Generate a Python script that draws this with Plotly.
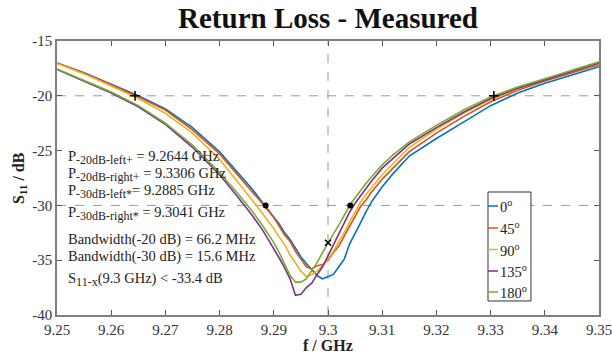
import plotly.graph_objects as go

# ---------------- data ----------------
freq_ghz = [9.250, 9.255, 9.260, 9.265, 9.270, 9.275, 9.280, 9.283, 9.286, 9.288,
            9.290, 9.291, 9.292, 9.293, 9.294, 9.295, 9.296, 9.297, 9.298, 9.299,
            9.300, 9.301, 9.302, 9.303, 9.304, 9.305, 9.306, 9.307, 9.308, 9.310,
            9.312, 9.315, 9.320, 9.325, 9.330, 9.335, 9.340, 9.345, 9.350]

s11_0 = [-17.0, -17.9, -18.95, -20.0, -21.2, -22.9, -25.1, -26.8, -28.5, -29.8,
         -31.0, -31.7, -32.5, -33.1, -33.9, -34.7, -35.3, -35.9, -36.4, -36.7,
         -36.5, -36.3, -35.6, -34.9, -33.5, -32.6, -31.6, -30.6, -29.7, -28.3,
         -27.1, -25.5, -23.9, -22.4, -20.9, -19.75, -18.85, -18.1, -17.35]

s11_45 = [-17.0, -17.95, -19.0, -20.1, -21.3, -23.1, -25.3, -27.0, -28.7, -29.9,
          -31.1, -31.9, -32.7, -33.3, -34.2, -34.9, -35.6, -35.8, -35.5, -35.4,
          -35.0, -34.3, -33.7, -32.8, -31.9, -31.0, -30.1, -29.5, -28.8, -27.6,
          -26.6, -25.1, -23.4, -21.9, -20.55, -19.5, -18.65, -17.9, -17.15]

s11_90 = [-17.05, -18.0, -19.1, -20.25, -21.6, -23.4, -25.8, -27.6, -29.5, -30.8,
          -32.1, -32.9, -33.6, -34.5, -35.3, -36.0, -36.5, -36.3, -36.0, -35.5,
          -34.9, -34.2, -33.3, -32.5, -31.5, -30.6, -29.7, -29.0, -28.4, -27.2,
          -26.2, -24.7, -23.05, -21.6, -20.35, -19.35, -18.5, -17.75, -17.05]

s11_135 = [-17.6, -18.65, -19.75, -21.0, -22.6, -24.7, -27.2, -29.0, -30.9, -32.3,
           -33.9, -34.8, -35.7, -36.7, -38.2, -38.1, -37.5, -37.1, -36.3, -35.6,
           -34.6, -33.6, -32.6, -31.6, -30.6, -29.8, -29.1, -28.5, -27.8, -26.6,
           -25.7, -24.4, -22.9, -21.5, -20.25, -19.3, -18.55, -17.75, -17.0]

s11_180 = [-17.55, -18.6, -19.65, -20.9, -22.5, -24.5, -27.0, -28.7, -30.5, -31.9,
           -33.4, -34.3, -35.3, -36.4, -37.0, -37.0, -36.7, -36.0, -35.2, -34.3,
           -33.4, -32.6, -31.8, -30.9, -30.0, -29.3, -28.6, -28.0, -27.4, -26.3,
           -25.4, -24.2, -22.7, -21.3, -20.1, -19.2, -18.45, -17.65, -16.9]

angle_labels = ["0", "45", "90", "135", "180"]
series_values = [s11_0, s11_45, s11_90, s11_135, s11_180]
series_colors = ["#0072BD", "#D95319", "#EDB120", "#7E2F8E", "#77AC30"]

marker_plus_f = [9.2644, 9.3306]
marker_plus_db = [-20, -20]
marker_dot_f = [9.2885, 9.3041]
marker_dot_db = [-30, -30]
marker_x_f = [9.3]
marker_x_db = [-33.4]

ref_h_levels = [-20, -30]
ref_v_freq = [9.3]

x_ticks = [9.25, 9.26, 9.27, 9.28, 9.29, 9.30, 9.31, 9.32, 9.33, 9.34, 9.35]
x_tick_labels = ["9.25", "9.26", "9.27", "9.28", "9.29", "9.3", "9.31", "9.32", "9.33", "9.34", "9.35"]
y_ticks = [-40, -35, -30, -25, -20, -15]
y_tick_labels = ["-40", "-35", "-30", "-25", "-20", "-15"]

SUB = '<sub><span style="font-size:12px">{}</span></sub>'
info_lines = [
    "P" + SUB.format("-20dB-left+") + " = 9.2644 GHz",
    "P" + SUB.format("-20dB-right+") + " = 9.3306 GHz",
    "P" + SUB.format("-30dB-left*") + "= 9.2885 GHz",
    "P" + SUB.format("-30dB-right*") + " = 9.3041 GHz",
    "Bandwidth(-20 dB) = 66.2 MHz",
    "Bandwidth(-30 dB) = 15.6 MHz",
    "S" + SUB.format("11-x") + "(9.3 GHz) < -33.4 dB",
]
info_y = [0.573, 0.511, 0.449, 0.372, 0.274, 0.212, 0.131]

# ---------------- figure ----------------
SERIF = "Liberation Serif"
fig = go.Figure()

for lvl in ref_h_levels:
    fig.add_hline(y=lvl, line=dict(color="#999999", width=1, dash="dash"), layer="below")
for fv in ref_v_freq:
    fig.add_vline(x=fv, line=dict(color="#999999", width=1, dash="dash"), layer="below")

for lab, vals, col in zip(angle_labels, series_values, series_colors):
    fig.add_trace(go.Scatter(x=freq_ghz, y=vals, mode="lines", name=f"{lab}<sup>o</sup>",
                             line=dict(color=col, width=1.6), showlegend=False))

fig.add_trace(go.Scatter(x=marker_plus_f, y=marker_plus_db, mode="markers", showlegend=False,
                         marker=dict(symbol="cross-thin", size=7, line=dict(color="black", width=1.5))))
fig.add_trace(go.Scatter(x=marker_dot_f, y=marker_dot_db, mode="markers", showlegend=False,
                         marker=dict(symbol="circle", size=6, color="black")))
fig.add_trace(go.Scatter(x=marker_x_f, y=marker_x_db, mode="markers", showlegend=False,
                         marker=dict(symbol="x-thin", size=6, line=dict(color="black", width=1.5))))

for txt, yy in zip(info_lines, info_y):
    fig.add_annotation(text=txt, xref="paper", yref="paper", x=0.017, y=yy,
                       xanchor="left", yanchor="middle", showarrow=False,
                       font=dict(family=SERIF, size=14.5, color="#222"))

# compact legend box (paper coordinates)
leg_x0, leg_x1, leg_y0, leg_y1 = 0.7952, 0.8745, 0.0511, 0.4489
leg_entry_y = [0.3978, 0.3175, 0.239, 0.1606, 0.0839]
fig.add_shape(type="rect", xref="paper", yref="paper", x0=leg_x0, x1=leg_x1, y0=leg_y0, y1=leg_y1,
              line=dict(color="#333", width=1), fillcolor="white", layer="above")
for lab, col, ly in zip(angle_labels, series_colors, leg_entry_y):
    fig.add_shape(type="line", xref="paper", yref="paper", x0=leg_x0, x1=0.8137, y0=ly, y1=ly,
                  line=dict(color=col, width=1.5), layer="above")
    fig.add_annotation(text=f"{lab}<sup>o</sup>", xref="paper", yref="paper", x=0.8137, y=ly,
                       xanchor="left", yanchor="middle", showarrow=False,
                       font=dict(family=SERIF, size=14.5, color="#222"))

fig.add_annotation(text="<b>f / GHz</b>", xref="paper", yref="paper", x=0.5, y=-0.113,
                   xanchor="center", yanchor="middle", showarrow=False,
                   font=dict(family=SERIF, size=16, color="#222"))
fig.add_annotation(text="<b>S<sub>11</sub> / dB</b>", xref="paper", yref="paper", x=-0.07, y=0.5,
                   xanchor="center", yanchor="middle", showarrow=False, textangle=-90,
                   font=dict(family=SERIF, size=16, color="#222"))

axis_common = dict(showgrid=False, zeroline=False, showline=True, linecolor="#7f7f7f", linewidth=1.5,
                   mirror="ticks", ticks="inside", ticklen=5, tickcolor="#555", tickwidth=1,
                   ticklabeloverflow="allow", automargin=False,
                   tickfont=dict(family=SERIF, size=15, color="#333"))

fig.update_xaxes(range=[9.25, 9.35], tickvals=x_ticks, ticktext=x_tick_labels, **axis_common)
fig.update_yaxes(range=[-40, -15], tickvals=y_ticks, ticktext=y_tick_labels, **axis_common)

fig.update_layout(
    width=612, height=353, autosize=False,
    margin=dict(l=57, r=13, t=41, b=38, autoexpand=False),
    paper_bgcolor="white", plot_bgcolor="white",
    title=dict(text="<b>Return Loss - Measured</b>", x=0.5, xref="paper", y=0.95, yanchor="middle",
               font=dict(family=SERIF, size=29, color="#111")),
    showlegend=False,
)

fig.write_html("out.html", config={"displayModeBar": False},
               post_script="document.body.style.margin='0';document.body.style.overflow='hidden';")
